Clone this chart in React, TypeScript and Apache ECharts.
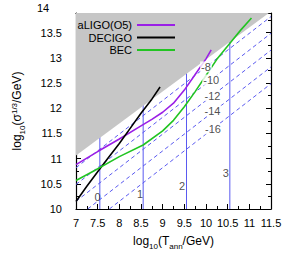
import React, { useEffect, useRef } from "react";
import * as echarts from "echarts";

// ---- data ----
const xMin = 7;
const xMax = 11.5;
const yMin = 10;
const yMax = 13.89;
const xTicks = [7, 7.5, 8, 8.5, 9, 9.5, 10, 10.5, 11, 11.5];
const yTicks = [10, 10.5, 11, 11.5, 12, 12.5, 13, 13.5, 14];

const aligoX = [7.0, 7.5, 8.0, 8.5, 8.75, 9.0, 9.25, 9.5, 9.75, 10.0, 10.12];
const aligoY = [10.88, 11.14, 11.39, 11.65, 11.78, 11.92, 12.1, 12.36, 12.67, 12.98, 13.16];

const decigoX = [7.0, 7.25, 7.5, 7.75, 8.0, 8.25, 8.5, 8.75, 8.94];
const decigoY = [10.15, 10.45, 10.74, 11.02, 11.3, 11.6, 11.9, 12.18, 12.42];

const becX = [7.0, 7.42, 8.0, 8.55, 9.0, 9.25, 9.5, 9.75, 10.0, 10.25, 10.58, 10.8, 11.05];
const becY = [10.565, 10.76, 11.04, 11.27, 11.55, 11.76, 12.03, 12.33, 12.65, 12.97, 13.32, 13.55, 13.79];

// excluded (gray) region vertices
const grayX = [7, 11.45, 7];
const grayY = [11.06, 13.89, 13.89];

// dashed reference lines: [x1, y1, x2, y2]
const dashLines = [
  [7, 10.82, 11.5, 13.82],
  [7, 10.487, 11.5, 13.487],
  [7, 10.153, 11.5, 13.153],
  [7.27, 10, 11.5, 12.82],
  [7.77, 10, 11.5, 12.487],
];
const dashLabels = ["-8", "-10", "-12", "-14", "-16"];
const dashLabelX = [10.0, 10.12, 10.15, 10.15, 10.16];
const dashLabelY = [12.82, 12.56, 12.25, 11.95, 11.59];

// vertical reference lines
const vX = [7.55, 8.55, 9.55, 10.55];
const vTop = [11.49, 12.15, 12.81, 13.5];
const vLabels = ["0", "1", "2", "3"];
const vLabelX = [7.5, 8.48, 9.45, 10.46];
const vLabelY = [10.23, 10.29, 10.45, 10.72];

const FONT = "Liberation Sans, Arial, sans-serif";
const PURPLE = "#9a1fe6";
const GREEN = "#22c422";
const BLUE = "#5a5af0";

const zip = (xs: number[], ys: number[]) => xs.map((x, i) => [x, ys[i]]);

export default function App() {
  const ref = useRef<HTMLDivElement>(null);
  useEffect(() => {
    if (!ref.current) return;
    const chart = echarts.init(ref.current, undefined, { renderer: "svg" });

    const rich = {
      n: { fontSize: 12, lineHeight: 18, fontFamily: FONT, color: "#000" },
      sub: { fontSize: 8, lineHeight: 8, verticalAlign: "bottom", fontFamily: FONT, color: "#000" },
      sup: { fontSize: 8, lineHeight: 8, verticalAlign: "top", padding: [2, 0, 0, 0], fontFamily: FONT, color: "#000" },
    };

    const axisCommon = {
      axisLine: { show: true, lineStyle: { color: "#000", width: 1.2 } },
      axisTick: { show: true, inside: true, length: 5, lineStyle: { color: "#000", width: 1 } },
      minorTick: { show: true, splitNumber: 2, length: 3, lineStyle: { color: "#000", width: 1 } },
      splitLine: { show: false },
    };

    const series: any[] = [];

    dashLines.forEach((l) => {
      series.push({
        type: "line",
        data: [[l[0], l[1]], [l[2], l[3]]],
        showSymbol: false,
        lineStyle: { color: BLUE, width: 1, type: [4, 3] },
        z: 1,
        silent: true,
      });
    });

    vX.forEach((x, i) => {
      series.push({
        type: "line",
        data: [[x, yMin], [x, vTop[i]]],
        showSymbol: false,
        lineStyle: { color: BLUE, width: 1 },
        z: 1,
        silent: true,
      });
    });

    series.push({
      type: "custom",
      z: 2,
      silent: true,
      data: [0],
      clip: true,
      renderItem: (_params: any, api: any) => ({
        type: "polygon",
        shape: { points: grayX.map((x, i) => api.coord([x, grayY[i]])) },
        style: { fill: "#c6c6c6" },
      }),
    });

    series.push({
      name: "aLIGO(O5)",
      type: "line",
      data: zip(aligoX, aligoY),
      showSymbol: false,
      color: PURPLE,
      lineStyle: { color: PURPLE, width: 1.6 },
      z: 3,
    });
    series.push({
      name: "DECIGO",
      type: "line",
      data: zip(decigoX, decigoY),
      showSymbol: false,
      color: "#000",
      lineStyle: { color: "#000", width: 1.6 },
      z: 3,
    });
    series.push({
      name: "BEC",
      type: "line",
      data: zip(becX, becY),
      showSymbol: false,
      color: GREEN,
      lineStyle: { color: GREEN, width: 1.6 },
      z: 3,
    });

    series.push({
      type: "scatter",
      symbolSize: 0,
      z: 5,
      silent: true,
      data: dashLabels.map((t, i) => ({ value: [dashLabelX[i], dashLabelY[i]], name: t })),
      label: {
        show: true,
        position: "inside",
        formatter: (p: any) => p.name,
        fontFamily: FONT,
        fontSize: 11,
        color: "#222",
        backgroundColor: "#fff",
        padding: [0, 1, 0, 1],
      },
    });
    series.push({
      type: "scatter",
      symbolSize: 0,
      z: 5,
      silent: true,
      data: vLabels.map((t, i) => ({ value: [vLabelX[i], vLabelY[i]], name: t })),
      label: {
        show: true,
        position: "inside",
        formatter: (p: any) => p.name,
        fontFamily: FONT,
        fontSize: 11,
        color: "#222",
      },
    });

    const legendCommon = {
      orient: "vertical",
      right: 111,
      align: "right",
      padding: 0,
      icon: "rect",
      itemWidth: 38,
      itemHeight: 2,
      itemGap: 0,
      textStyle: { fontFamily: FONT, fontSize: 11, color: "#000", lineHeight: 12 },
      selectedMode: false,
    };

    chart.setOption({
      animation: false,
      backgroundColor: "#fff",
      grid: { left: 71, right: 15, top: 13, bottom: 44 },
      legend: [
        { ...legendCommon, top: 19, data: ["aLIGO(O5)"] },
        { ...legendCommon, top: 31.5, data: ["DECIGO"] },
        { ...legendCommon, top: 44, data: ["BEC"] },
      ],
      xAxis: [
        {
          type: "value",
          min: xMin,
          max: xMax,
          interval: 0.5,
          ...axisCommon,
          axisLabel: {
            fontFamily: FONT,
            fontSize: 11,
            color: "#000",
            margin: 8,
            formatter: (v: number) => (xTicks.includes(v) ? String(v) : ""),
          },
          name: "{n|log}{sub|10}{n|(T}{sub|ann}{n|/GeV)}",
          nameLocation: "middle",
          nameGap: 23,
          nameTextStyle: { rich },
        },
        {
          type: "value",
          position: "top",
          min: xMin,
          max: xMax,
          interval: 0.5,
          ...axisCommon,
          axisLabel: { show: false },
        },
      ],
      yAxis: [
        {
          type: "value",
          min: yMin,
          max: yMax,
          interval: 0.5,
          ...axisCommon,
          axisLabel: {
            fontFamily: FONT,
            fontSize: 11,
            color: "#000",
            margin: 14,
            showMaxLabel: false,
            formatter: (v: number) => (yTicks.includes(v) ? String(v) : ""),
          },
          name: "{n|log}{sub|10}{n|(σ}{sup|1/3}{n|/GeV)}",
          nameLocation: "middle",
          nameRotate: 90,
          nameGap: 50,
          nameTextStyle: { rich },
        },
        {
          type: "value",
          position: "right",
          min: yMin,
          max: yMax,
          interval: 0.5,
          ...axisCommon,
          axisLabel: { show: false },
        },
      ],
      graphic: [
        {
          type: "text",
          left: 37,
          top: 2,
          style: { text: "14", font: `11px ${FONT}`, fill: "#000" },
        },
      ],
      series,
    });

    return () => chart.dispose();
  }, []);

  return (
    <div
      ref={ref}
      style={{ position: "fixed", left: 0, top: 0, width: 286, height: 255 }}
    />
  );
}
